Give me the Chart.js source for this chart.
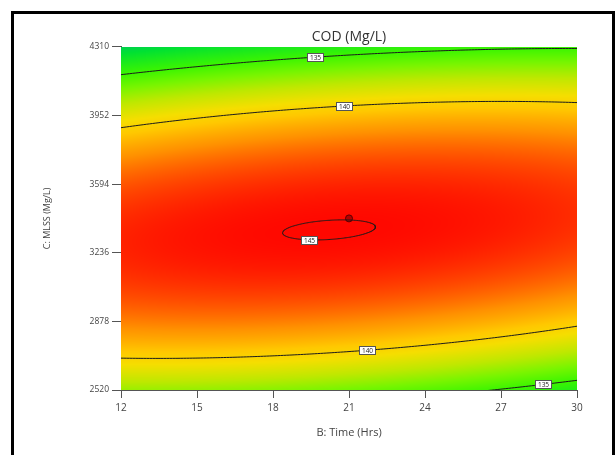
<!DOCTYPE html>
<html>
<head>
<meta charset="utf-8">
<script src="https://cdn.jsdelivr.net/npm/chart.js@4.4.0/dist/chart.umd.min.js"></script>
<style>
html, body { margin: 0; padding: 0; background: #fff; }
#wrap { position: relative; width: 616px; height: 455px; overflow: hidden; }
#frame { position: absolute; left: 11px; top: 11px; width: 604px; height: 600px; border: 3px solid #000; box-sizing: border-box; }
canvas { position: absolute; left: 0; top: 0; }
</style>
</head>
<body>
<div id="wrap">
  <div id="frame"></div>
  <canvas id="myChart" width="616" height="455"></canvas>
</div>
<script>
// axis ticks
var timeTicks = [12, 15, 18, 21, 24, 27, 30];
var mlssTicks = [2520, 2878, 3236, 3594, 3952, 4310];
var contourLevels = [135, 140, 145];
// fitted quadratic (coded units): Intercept, B, C, BC, B^2, C^2
var modelCoef = [144.99, -0.032, -1.171, 1.628, -0.806, -9.794];
// design point (centre run)
var runTime = [21];
var runMlss = [3415];

var bMid = (timeTicks[0] + timeTicks[timeTicks.length - 1]) / 2,
    bHalf = (timeTicks[timeTicks.length - 1] - timeTicks[0]) / 2,
    cMid = (mlssTicks[0] + mlssTicks[mlssTicks.length - 1]) / 2,
    cHalf = (mlssTicks[mlssTicks.length - 1] - mlssTicks[0]) / 2;

function model(b, c) {
    var x = (b - bMid) / bHalf, y = (c - cMid) / cHalf, k = modelCoef;
    return k[0] + k[1] * x + k[2] * y + k[3] * x * y + k[4] * x * x + k[5] * y * y;
}

// solve model = level for C at a given time, branch +1 upper / -1 lower
function solveC(level, b, branch, clamp) {
    var x = (b - bMid) / bHalf, k = modelCoef;
    var c2 = k[5], c1 = k[2] + k[3] * x, c0 = k[0] + k[1] * x + k[4] * x * x - level;
    var d = c1 * c1 - 4 * c2 * c0;
    if (d < 0) {
        if (!clamp) return null;
        d = 0;
    }
    var s = Math.sqrt(d);
    var y = branch > 0 ? (-c1 - s) / (2 * c2) : (-c1 + s) / (2 * c2);
    return cMid + y * cHalf;
}

// colour ramp, green -> yellow -> red
var rampVal = [131, 132.5, 135, 136.5, 138, 139.5, 140.5, 142, 143.5, 144.6, 145.2];
var rampCol = [[0, 195, 100], [0, 225, 50], [60, 245, 0], [120, 245, 0], [190, 232, 0], [245, 222, 0],
               [255, 200, 0], [255, 145, 0], [255, 75, 0], [255, 25, 0], [255, 0, 0]];

function colorAt(v) {
    if (v <= rampVal[0]) return rampCol[0];
    for (var i = 1; i < rampVal.length; i++) {
        if (v <= rampVal[i]) {
            var t = (v - rampVal[i - 1]) / (rampVal[i] - rampVal[i - 1]);
            var a = rampCol[i - 1], b = rampCol[i];
            return [a[0] + (b[0] - a[0]) * t, a[1] + (b[1] - a[1]) * t, a[2] + (b[2] - a[2]) * t];
        }
    }
    return rampCol[rampCol.length - 1];
}

function contourDatasets(level) {
    var k = modelCoef;
    // x-range where the level exists
    var A = k[3] * k[3] - 4 * k[5] * k[4],
        B = 2 * k[2] * k[3] - 4 * k[5] * k[1],
        C = k[2] * k[2] - 4 * k[5] * (k[0] - level);
    var lo = -1, hi = 1, closed = false;
    if (A < 0) {
        var s = Math.sqrt(B * B - 4 * A * C);
        var r1 = (-B + s) / (2 * A), r2 = (-B - s) / (2 * A);
        var rl = Math.min(r1, r2), rh = Math.max(r1, r2);
        if (rl > -1 && rh < 1) { lo = rl; hi = rh; closed = true; }
    }
    var n = 160, sets = [];
    function pts(branch, rev) {
        var out = [];
        for (var i = 0; i <= n; i++) {
            var t = closed ? (1 - Math.cos(Math.PI * i / n)) / 2 : i / n;
            var b = bMid + (lo + (hi - lo) * t) * bHalf;
            out.push({ x: b, y: solveC(level, b, branch, true) });
        }
        return rev ? out.reverse() : out;
    }
    var style = { showLine: true, pointRadius: 0, borderColor: '#1c1c1c', borderWidth: 1, fill: false };
    if (closed) {
        sets.push(Object.assign({ data: pts(1, false).concat(pts(-1, true)) }, style));
    } else {
        sets.push(Object.assign({ data: pts(1, false) }, style));
        sets.push(Object.assign({ data: pts(-1, false) }, style));
    }
    return sets;
}

var datasets = [];
contourLevels.forEach(function (lv) { datasets = datasets.concat(contourDatasets(lv)); });
datasets.push({
    data: runTime.map(function (t, i) { return { x: t, y: runMlss[i] }; }),
    pointRadius: 3.5,
    backgroundColor: '#b40000',
    borderColor: '#5a0000',
    borderWidth: 1
});

// where the contour value boxes sit
var labelSpots = [
    { level: 135, time: 19.66, branch: 1 },
    { level: 140, time: 20.8, branch: 1 },
    { level: 145, time: 19.42, branch: -1 },
    { level: 140, time: 21.7, branch: -1 },
    { level: 135, time: 28.66, branch: -1 }
];

var heatmap = {
    id: 'heatmap',
    beforeDatasetsDraw: function (chart) {
        var a = chart.chartArea, ctx = chart.ctx,
            xs = chart.scales.x, ys = chart.scales.y;
        var x0 = Math.round(a.left), y0 = Math.round(a.top);
        var w = Math.round(a.right) - x0, h = Math.round(a.bottom) - y0;
        var img = ctx.createImageData(w, h);
        for (var j = 0; j < h; j++) {
            var c = ys.getValueForPixel(y0 + j + 0.5);
            for (var i = 0; i < w; i++) {
                var b = xs.getValueForPixel(x0 + i + 0.5);
                var col = colorAt(model(b, c));
                var p = (j * w + i) * 4;
                img.data[p] = col[0];
                img.data[p + 1] = col[1];
                img.data[p + 2] = col[2];
                img.data[p + 3] = 255;
            }
        }
        ctx.putImageData(img, x0, y0);
    }
};

var contourLabels = {
    id: 'contourLabels',
    afterDatasetsDraw: function (chart) {
        var ctx = chart.ctx, xs = chart.scales.x, ys = chart.scales.y;
        ctx.save();
        ctx.font = '6.5px "Open Sans"';
        ctx.textAlign = 'center';
        ctx.textBaseline = 'middle';
        labelSpots.forEach(function (l) {
            var c = solveC(l.level, l.time, l.branch);
            if (c === null) return;
            var px = xs.getPixelForValue(l.time), py = ys.getPixelForValue(c);
            ctx.fillStyle = '#fff';
            ctx.fillRect(Math.round(px - 8) + 0.5, Math.round(py - 4) + 0.5, 16, 8);
            ctx.strokeStyle = '#555';
            ctx.lineWidth = 1;
            ctx.strokeRect(Math.round(px - 8) + 0.5, Math.round(py - 4) + 0.5, 16, 8);
            ctx.fillStyle = '#222';
            ctx.fillText(String(l.level), Math.round(px) + 0.5, Math.round(py) + 1);
        });
        ctx.restore();
    }
};

var canvas = document.getElementById('myChart');
new Chart(canvas, {
    type: 'scatter',
    data: { datasets: datasets },
    options: {
        responsive: false,
        animation: false,
        events: [],
        layout: { padding: { left: 0, right: 39, top: 0, bottom: 0 } },
        plugins: {
            legend: { display: false },
            tooltip: { enabled: false },
            title: {
                display: true,
                fullSize: false,
                text: 'COD (Mg/L)',
                color: '#333',
                font: { family: 'Open Sans', size: 14, weight: 'normal' },
                padding: { top: 29, bottom: 1 }
            }
        },
        scales: {
            x: {
                type: 'linear',
                min: timeTicks[0],
                max: timeTicks[timeTicks.length - 1],
                afterBuildTicks: function (s) { s.ticks = timeTicks.map(function (v) { return { value: v }; }); },
                afterFit: function (s) { s.height = 65; },
                ticks: {
                    color: '#444', padding: 4,
                    font: { family: 'Open Sans', size: 10 },
                    callback: function (v) { return String(v); }
                },
                grid: { drawOnChartArea: false, tickLength: 8, color: '#555' },
                border: { color: '#555' },
                title: {
                    display: true, text: 'B: Time (Hrs)', color: '#444',
                    font: { family: 'Open Sans', size: 11 },
                    padding: { top: 0, bottom: 16 }
                }
            },
            y: {
                type: 'linear',
                min: mlssTicks[0],
                max: mlssTicks[mlssTicks.length - 1],
                afterBuildTicks: function (s) { s.ticks = mlssTicks.map(function (v) { return { value: v }; }); },
                afterFit: function (s) { s.width = 121; },
                ticks: {
                    color: '#444', padding: 3,
                    font: { family: 'Open Sans', size: 8.5 },
                    callback: function (v) { return String(v); }
                },
                grid: { drawOnChartArea: false, tickLength: 9, color: '#555' },
                border: { color: '#555' },
                title: {
                    display: true, text: 'C: MLSS (Mg/L)', color: '#444',
                    font: { family: 'Open Sans', size: 9 },
                    padding: { top: 42, bottom: 0 }
                }
            }
        }
    },
    plugins: [heatmap, contourLabels]
});
</script>
</body>
</html>
